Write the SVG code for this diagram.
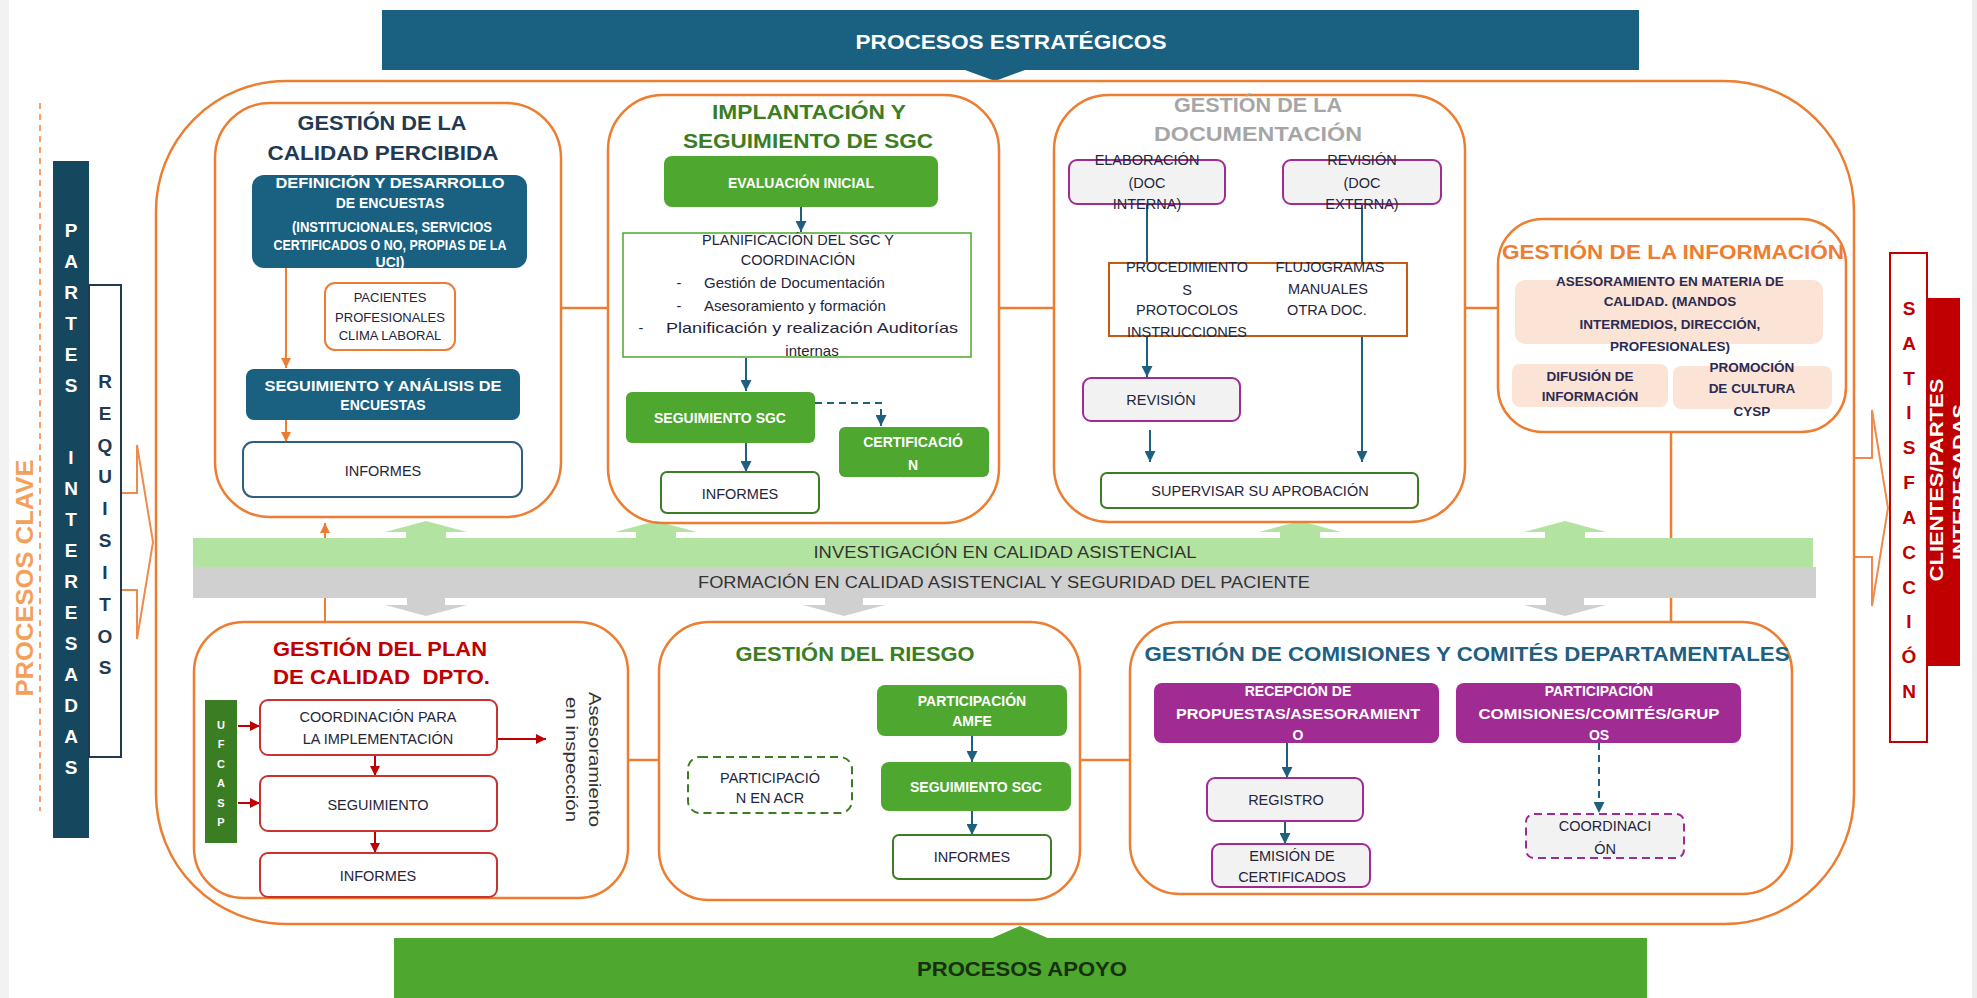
<svg xmlns="http://www.w3.org/2000/svg" width="1977" height="998" viewBox="0 0 1977 998">
<defs>
<style>
text{font-family:"Liberation Sans",Arial,sans-serif}
.pb{fill:none;stroke:#ed7d31;stroke-width:2.5}
.cn{fill:none;stroke:#ed7d31;stroke-width:2.5}
.ba{fill:none;stroke:#1f5f80;stroke-width:2}
.bd{fill:none;stroke:#1f5f80;stroke-width:2;stroke-dasharray:7 5}
.oa{fill:none;stroke:#ed7d31;stroke-width:2}
.ra{fill:none;stroke:#c00000;stroke-width:2}
.teal{fill:#1a6080}
.grn{fill:#4ea72e}
.pur{fill:#a02b93}
.gbx{fill:#f2f2f2;stroke:#a02b93;stroke-width:2}
.peach{fill:#fbe3d6}
.wb{fill:#fff;stroke:#3b7d23;stroke-width:2}
.rb{fill:#fff;stroke:#c8322f;stroke-width:2}
.w{fill:#fff;font-weight:bold;font-size:14px;text-anchor:middle}
.d{fill:#25253a;font-size:14.5px;text-anchor:middle}
.ds{fill:#25253a;font-size:13px;text-anchor:middle}
.pe{fill:#2b2b52;font-size:13.5px;font-weight:bold;text-anchor:middle}
.ttl{font-weight:bold;font-size:21px;text-anchor:middle}
.vl{font-weight:bold;font-size:19px;text-anchor:middle}
.bt{fill:#333;font-size:16px;text-anchor:middle}
</style>
<marker id="mb" viewBox="0 0 10 10" refX="10" refY="5" markerWidth="11" markerHeight="11" markerUnits="userSpaceOnUse" orient="auto"><path d="M0,0 L10,5 L0,10 Z" fill="#1f5f80"/></marker>
<marker id="mo" viewBox="0 0 10 10" refX="10" refY="5" markerWidth="10" markerHeight="10" markerUnits="userSpaceOnUse" orient="auto"><path d="M0,0 L10,5 L0,10 Z" fill="#ed7d31"/></marker>
<marker id="mr" viewBox="0 0 10 10" refX="10" refY="5" markerWidth="10" markerHeight="10" markerUnits="userSpaceOnUse" orient="auto"><path d="M0,0 L10,5 L0,10 Z" fill="#c00000"/></marker>
<clipPath id="rc"><rect x="1927" y="298" width="33" height="368"/></clipPath>
</defs>

<rect width="1977" height="998" fill="#fff"/>
<rect x="0" y="0" width="9" height="998" fill="#f2f2f2"/>
<rect x="1972" y="0" width="5" height="998" fill="#ececec"/>

<g id="procesos-estrategicos">
<rect x="382" y="10" width="1257" height="60" class="teal"/>
<path d="M965,70 L1025,70 L995,81 Z" class="teal"/>
<text x="1011" y="49" class="ttl" fill="#fff" textLength="311" lengthAdjust="spacingAndGlyphs">PROCESOS ESTRATÉGICOS</text>
</g>

<g id="procesos-apoyo">
<rect x="394" y="938" width="1253" height="60" class="grn"/>
<path d="M990,939 L1050,939 L1020,926 Z" class="grn"/>
<text x="1022" y="976" class="ttl" fill="#17300e" textLength="210" lengthAdjust="spacingAndGlyphs">PROCESOS APOYO</text>
</g>

<g id="procesos-clave">
<rect x="156" y="81" width="1698" height="843" rx="130" ry="130" fill="none" stroke="#ed7d31" stroke-width="2.5"/>
<line x1="40" y1="103" x2="40" y2="811" stroke="#f7a06a" stroke-width="2" stroke-dasharray="6 5"/>
<text transform="translate(33,578) rotate(-90)" text-anchor="middle" font-size="24" font-weight="bold" fill="#f5a05a" textLength="237" lengthAdjust="spacingAndGlyphs">PROCESOS CLAVE</text>
</g>

<g id="partes-interesadas">
<rect x="53" y="161" width="36" height="677" fill="#15475f"/>
<g class="vl" fill="#fff">
<text x="71" y="237">P</text><text x="71" y="268">A</text><text x="71" y="299">R</text><text x="71" y="330">T</text><text x="71" y="361">E</text><text x="71" y="392">S</text>
<text x="71" y="464">I</text><text x="71" y="495">N</text><text x="71" y="526">T</text><text x="71" y="557">E</text><text x="71" y="588">R</text><text x="71" y="619">E</text><text x="71" y="650">S</text><text x="71" y="681">A</text><text x="71" y="712">D</text><text x="71" y="743">A</text><text x="71" y="774">S</text>
</g>
</g>

<g id="requisitos">
<rect x="89" y="285" width="32" height="472" fill="#fff" stroke="#1f3a52" stroke-width="2"/>
<g class="vl" fill="#1f3a52">
<text x="105" y="388">R</text><text x="105" y="420">E</text><text x="105" y="452">Q</text><text x="105" y="483">U</text><text x="105" y="515">I</text><text x="105" y="547">S</text><text x="105" y="579">I</text><text x="105" y="611">T</text><text x="105" y="643">O</text><text x="105" y="674">S</text>
</g>
<path d="M122,493 L137,493 L137,445 L153,542 L137,639 L137,590 L122,590" fill="none" stroke="#f08a4b" stroke-width="2"/>
</g>

<g id="satisfaccion">
<path d="M1855,458 L1872,458 L1872,410 L1888,508 L1872,606 L1872,557 L1855,557" fill="none" stroke="#f08a4b" stroke-width="2"/>
<rect x="1927" y="298" width="33" height="368" fill="#c00000"/>
<g clip-path="url(#rc)">
<text transform="translate(1943,480) rotate(-90)" text-anchor="middle" font-size="18" font-weight="bold" fill="#fff" textLength="203" lengthAdjust="spacingAndGlyphs">CLIENTES/PARTES</text>
<text transform="translate(1966,482) rotate(-90)" text-anchor="middle" font-size="18" font-weight="bold" fill="#fff" textLength="156" lengthAdjust="spacingAndGlyphs">INTERESADAS</text>
</g>
<rect x="1890" y="253" width="37" height="489" fill="#fff" stroke="#c00000" stroke-width="2"/>
<g class="vl" fill="#c00000">
<text x="1909" y="315">S</text><text x="1909" y="350">A</text><text x="1909" y="385">T</text><text x="1909" y="419">I</text><text x="1909" y="454">S</text><text x="1909" y="489">F</text><text x="1909" y="524">A</text><text x="1909" y="559">C</text><text x="1909" y="594">C</text><text x="1909" y="628">I</text><text x="1909" y="663">Ó</text><text x="1909" y="698">N</text>
</g>
</g>

<g id="connectors">
<path class="cn" d="M561,308 L609,308"/>
<path class="cn" d="M999,308 L1054,308"/>
<path class="cn" d="M1465,308 L1498,308"/>
<path class="cn" d="M628,760 L659,760"/>
<path class="cn" d="M1080,760 L1130,760"/>
<path class="cn" d="M1671,433 L1671,622"/>
<path class="oa" d="M325,621 L325,523" marker-end="url(#mo)"/>
<path class="oa" d="M286,268 L286,368" marker-end="url(#mo)"/>
<path class="oa" d="M286,420 L286,442" marker-end="url(#mo)"/>
<path class="ba" d="M801,207 L801,232" marker-end="url(#mb)"/>
<path class="ba" d="M746,358 L746,391" marker-end="url(#mb)"/>
<path class="bd" d="M815,403 L881,403 L881,426" marker-end="url(#mb)"/>
<path class="ba" d="M746,443 L746,472" marker-end="url(#mb)"/>
<path class="ba" d="M1147,204 L1147,377" marker-end="url(#mb)"/>
<path class="ba" d="M1362,204 L1362,462" marker-end="url(#mb)"/>
<path class="ba" d="M1150,430 L1150,462" marker-end="url(#mb)"/>
<path class="ra" d="M238,726 L260,726" marker-end="url(#mr)"/>
<path class="ra" d="M238,803 L260,803" marker-end="url(#mr)"/>
<path class="ra" d="M498,739 L546,739" marker-end="url(#mr)"/>
<path class="ra" d="M375,755 L375,776" marker-end="url(#mr)"/>
<path class="ra" d="M375,831 L375,853" marker-end="url(#mr)"/>
<path class="ba" d="M972,736 L972,762" marker-end="url(#mb)"/>
<path class="ba" d="M972,811 L972,835" marker-end="url(#mb)"/>
<path class="ba" d="M1287,743 L1287,778" marker-end="url(#mb)"/>
<path class="ba" d="M1285,821 L1285,844" marker-end="url(#mb)"/>
<path class="bd" d="M1599,743 L1599,813" marker-end="url(#mb)"/>
</g>

<g id="bandas">
<g fill="#b3e3a1">
<path d="M406,539 L406,532 L385,532 L426,521 L467,532 L446,532 L446,539 Z"/>
<path d="M636,539 L636,532 L615,532 L656,521 L697,532 L676,532 L676,539 Z"/>
<path d="M1280,539 L1280,532 L1259,532 L1300,521 L1341,532 L1320,532 L1320,539 Z"/>
<path d="M1545,539 L1545,532 L1524,532 L1565,521 L1606,532 L1585,532 L1585,539 Z"/>
</g>
<g fill="#d0d0d0">
<path d="M407,597 L407,605 L385,605 L426,616 L467,605 L445,605 L445,597 Z"/>
<path d="M825,597 L825,605 L803,605 L844,616 L885,605 L863,605 L863,597 Z"/>
<path d="M1546,597 L1546,605 L1524,605 L1565,616 L1606,605 L1584,605 L1584,597 Z"/>
</g>
<g id="investigacion">
<rect x="193" y="538" width="1620" height="29" fill="#b3e3a1"/>
<text x="1005" y="558" class="bt" textLength="383" lengthAdjust="spacingAndGlyphs">INVESTIGACIÓN EN CALIDAD ASISTENCIAL</text>
</g>
<g id="formacion">
<rect x="193" y="567" width="1623" height="31" fill="#d0d0d0"/>
<text x="1004" y="588" class="bt" textLength="612" lengthAdjust="spacingAndGlyphs">FORMACIÓN EN CALIDAD ASISTENCIAL Y SEGURIDAD DEL PACIENTE</text>
</g>
</g>

<g id="gestion-calidad-percibida">
<rect x="215" y="103" width="346" height="414" rx="55" class="pb"/>
<text x="382" y="130" class="ttl" fill="#1f3a52" textLength="169" lengthAdjust="spacingAndGlyphs">GESTIÓN DE LA</text>
<text x="383" y="160" class="ttl" fill="#1f3a52" textLength="231" lengthAdjust="spacingAndGlyphs">CALIDAD PERCIBIDA</text>
<rect x="252" y="175" width="275" height="93" rx="12" class="teal"/>
<text x="390" y="188" class="w" textLength="229" lengthAdjust="spacingAndGlyphs">DEFINICIÓN Y DESARROLLO</text>
<text x="390" y="208" class="w">DE ENCUESTAS</text>
<text x="392" y="232" class="w" font-size="10.5" textLength="200" lengthAdjust="spacingAndGlyphs">(INSTITUCIONALES, SERVICIOS</text>
<text x="390" y="250" class="w" font-size="10.5" textLength="233" lengthAdjust="spacingAndGlyphs">CERTIFICADOS O NO, PROPIAS DE LA</text>
<text x="390" y="267" class="w" font-size="10.5">UCI)</text>
<rect x="325" y="283" width="130" height="67" rx="10" fill="#fff" stroke="#ed7d31" stroke-width="2"/>
<text x="390" y="302" class="ds">PACIENTES</text>
<text x="390" y="322" class="ds">PROFESIONALES</text>
<text x="390" y="340" class="ds">CLIMA LABORAL</text>
<rect x="246" y="369" width="274" height="51" rx="8" class="teal"/>
<text x="383" y="391" class="w" textLength="237" lengthAdjust="spacingAndGlyphs">SEGUIMIENTO Y ANÁLISIS DE</text>
<text x="383" y="410" class="w">ENCUESTAS</text>
<rect x="243" y="442" width="279" height="55" rx="10" fill="#fff" stroke="#2f5f80" stroke-width="2"/>
<text x="383" y="476" class="d">INFORMES</text>
</g>

<g id="implantacion-sgc">
<rect x="608" y="95" width="391" height="428" rx="55" class="pb"/>
<text x="809" y="119" class="ttl" fill="#3b7d23" textLength="194" lengthAdjust="spacingAndGlyphs">IMPLANTACIÓN Y</text>
<text x="808" y="148" class="ttl" fill="#3b7d23" textLength="250" lengthAdjust="spacingAndGlyphs">SEGUIMIENTO DE SGC</text>
<rect x="664" y="156" width="274" height="51" rx="8" class="grn"/>
<text x="801" y="188" class="w">EVALUACIÓN INICIAL</text>
<rect x="623" y="233" width="348" height="124" fill="#fff" stroke="#4ea72e" stroke-width="1.5"/>
<text x="798" y="245" class="d">PLANIFICACIÓN DEL SGC Y</text>
<text x="798" y="265" class="d">COORDINACIÓN</text>
<text x="679" y="288" class="d">-</text>
<text x="704" y="288" fill="#25253a" font-size="15">Gestión de Documentación</text>
<text x="679" y="311" class="d">-</text>
<text x="704" y="311" fill="#25253a" font-size="15">Asesoramiento y formación</text>
<text x="641" y="333" class="d">-</text>
<text x="666" y="333" fill="#25253a" font-size="15" textLength="292" lengthAdjust="spacingAndGlyphs">Planificación y realización Auditorías</text>
<text x="812" y="356" fill="#25253a" font-size="15" text-anchor="middle">internas</text>
<rect x="626" y="392" width="189" height="51" rx="6" class="grn"/>
<text x="720" y="423" class="w">SEGUIMIENTO SGC</text>
<rect x="839" y="427" width="150" height="50" rx="6" class="grn"/>
<text x="913" y="447" class="w">CERTIFICACIÓ</text>
<text x="913" y="470" class="w">N</text>
<rect x="661" y="472" width="158" height="41" rx="6" class="wb"/>
<text x="740" y="499" class="d">INFORMES</text>
</g>

<g id="gestion-documentacion">
<rect x="1054" y="95" width="411" height="427" rx="55" class="pb"/>
<text x="1258" y="112" class="ttl" fill="#a6a6a6" textLength="168" lengthAdjust="spacingAndGlyphs">GESTIÓN DE LA</text>
<text x="1258" y="141" class="ttl" fill="#a6a6a6" textLength="208" lengthAdjust="spacingAndGlyphs">DOCUMENTACIÓN</text>
<rect x="1069" y="160" width="156" height="44" rx="8" class="gbx"/>
<text x="1147" y="165" class="d">ELABORACIÓN</text>
<text x="1147" y="188" class="d">(DOC</text>
<text x="1147" y="209" class="d">INTERNA)</text>
<rect x="1283" y="160" width="158" height="44" rx="8" class="gbx"/>
<text x="1362" y="165" class="d">REVISIÓN</text>
<text x="1362" y="188" class="d">(DOC</text>
<text x="1362" y="209" class="d">EXTERNA)</text>
<rect x="1109" y="263" width="298" height="73" fill="#fff" stroke="#c55a11" stroke-width="2"/>
<text x="1187" y="272" class="d">PROCEDIMIENTO</text>
<text x="1187" y="295" class="d">S</text>
<text x="1187" y="315" class="d">PROTOCOLOS</text>
<text x="1187" y="337" class="d">INSTRUCCIONES</text>
<text x="1330" y="272" class="d">FLUJOGRAMAS</text>
<text x="1328" y="294" class="d">MANUALES</text>
<text x="1327" y="315" class="d">OTRA DOC.</text>
<rect x="1083" y="378" width="157" height="43" rx="8" class="gbx"/>
<text x="1161" y="405" class="d">REVISIÓN</text>
<rect x="1101" y="473" width="317" height="35" rx="6" class="wb"/>
<text x="1260" y="496" class="d">SUPERVISAR SU APROBACIÓN</text>
</g>

<g id="gestion-informacion">
<rect x="1498" y="219" width="348" height="213" rx="45" class="pb"/>
<text x="1673" y="259" class="ttl" fill="#ed7d31" textLength="342" lengthAdjust="spacingAndGlyphs">GESTIÓN DE LA INFORMACIÓN</text>
<rect x="1515" y="280" width="308" height="64" rx="10" class="peach"/>
<text x="1670" y="286" class="pe">ASESORAMIENTO EN MATERIA DE</text>
<text x="1670" y="306" class="pe">CALIDAD. (MANDOS</text>
<text x="1670" y="329" class="pe">INTERMEDIOS, DIRECCIÓN,</text>
<text x="1670" y="351" class="pe">PROFESIONALES)</text>
<rect x="1512" y="364" width="156" height="43" rx="8" class="peach"/>
<text x="1590" y="381" class="pe">DIFUSIÓN DE</text>
<text x="1590" y="401" class="pe">INFORMACIÓN</text>
<rect x="1673" y="366" width="159" height="43" rx="8" class="peach"/>
<text x="1752" y="372" class="pe">PROMOCIÓN</text>
<text x="1752" y="393" class="pe">DE CULTURA</text>
<text x="1752" y="416" class="pe">CYSP</text>
</g>

<g id="gestion-plan-calidad">
<rect x="194" y="622" width="434" height="276" rx="50" class="pb"/>
<text x="273" y="656" font-weight="bold" font-size="21" fill="#c00000" textLength="214" lengthAdjust="spacingAndGlyphs">GESTIÓN DEL PLAN</text>
<text x="273" y="684" font-weight="bold" font-size="21" fill="#c00000" xml:space="preserve" textLength="217" lengthAdjust="spacingAndGlyphs">DE CALIDAD  DPTO.</text>
<rect x="205" y="700" width="32" height="143" fill="#3b7d23"/>
<g fill="#fff" font-weight="bold" font-size="11" text-anchor="middle">
<text x="221" y="729">U</text><text x="221" y="748">F</text><text x="221" y="768">C</text><text x="221" y="787">A</text><text x="221" y="807">S</text><text x="221" y="826">P</text>
</g>
<rect x="260" y="700" width="237" height="55" rx="8" class="rb"/>
<text x="378" y="722" class="d">COORDINACIÓN PARA</text>
<text x="378" y="744" class="d">LA IMPLEMENTACIÓN</text>
<rect x="260" y="776" width="237" height="55" rx="8" class="rb"/>
<text x="378" y="810" class="d">SEGUIMIENTO</text>
<rect x="260" y="853" width="237" height="44" rx="8" class="rb"/>
<text x="378" y="881" class="d">INFORMES</text>
<text transform="translate(589,692) rotate(90)" fill="#333" font-size="16.5" textLength="135" lengthAdjust="spacingAndGlyphs">Asesoramiento</text>
<text transform="translate(566,697) rotate(90)" fill="#333" font-size="16.5" textLength="125" lengthAdjust="spacingAndGlyphs">en inspección</text>
</g>

<g id="gestion-riesgo">
<rect x="659" y="622" width="421" height="278" rx="50" class="pb"/>
<text x="855" y="661" class="ttl" fill="#3b7d23" textLength="239" lengthAdjust="spacingAndGlyphs">GESTIÓN DEL RIESGO</text>
<rect x="877" y="685" width="190" height="51" rx="8" class="grn"/>
<text x="972" y="706" class="w">PARTICIPACIÓN</text>
<text x="972" y="726" class="w">AMFE</text>
<rect x="881" y="762" width="190" height="49" rx="8" class="grn"/>
<text x="976" y="792" class="w">SEGUIMIENTO SGC</text>
<rect x="893" y="835" width="158" height="44" rx="6" class="wb"/>
<text x="972" y="862" class="d">INFORMES</text>
<rect x="688" y="757" width="164" height="56" rx="12" fill="none" stroke="#3b7d23" stroke-width="2" stroke-dasharray="8 5"/>
<text x="770" y="783" class="d">PARTICIPACIÓ</text>
<text x="770" y="803" class="d">N EN ACR</text>
</g>

<g id="gestion-comisiones">
<rect x="1130" y="622" width="662" height="272" rx="50" class="pb"/>
<text x="1467" y="661" class="ttl" fill="#1f5f80" textLength="645" lengthAdjust="spacingAndGlyphs">GESTIÓN DE COMISIONES Y COMITÉS DEPARTAMENTALES</text>
<rect x="1154" y="683" width="285" height="60" rx="8" class="pur"/>
<text x="1298" y="696" class="w">RECEPCIÓN DE</text>
<text x="1298" y="719" class="w" textLength="244" lengthAdjust="spacingAndGlyphs">PROPUESTAS/ASESORAMIENT</text>
<text x="1298" y="740" class="w">O</text>
<rect x="1456" y="683" width="285" height="60" rx="8" class="pur"/>
<text x="1599" y="696" class="w">PARTICIPACIÓN</text>
<text x="1599" y="719" class="w" textLength="241" lengthAdjust="spacingAndGlyphs">COMISIONES/COMITÉS/GRUP</text>
<text x="1599" y="740" class="w">OS</text>
<rect x="1207" y="778" width="156" height="43" rx="8" class="gbx"/>
<text x="1286" y="805" class="d">REGISTRO</text>
<rect x="1212" y="844" width="158" height="43" rx="8" class="gbx"/>
<text x="1292" y="861" class="d">EMISIÓN DE</text>
<text x="1292" y="882" class="d">CERTIFICADOS</text>
<rect x="1526" y="814" width="158" height="44" rx="8" fill="#f2f2f2" stroke="#a02b93" stroke-width="2" stroke-dasharray="8 5"/>
<text x="1605" y="831" class="d">COORDINACI</text>
<text x="1605" y="854" class="d">ÓN</text>
</g>
</svg>
